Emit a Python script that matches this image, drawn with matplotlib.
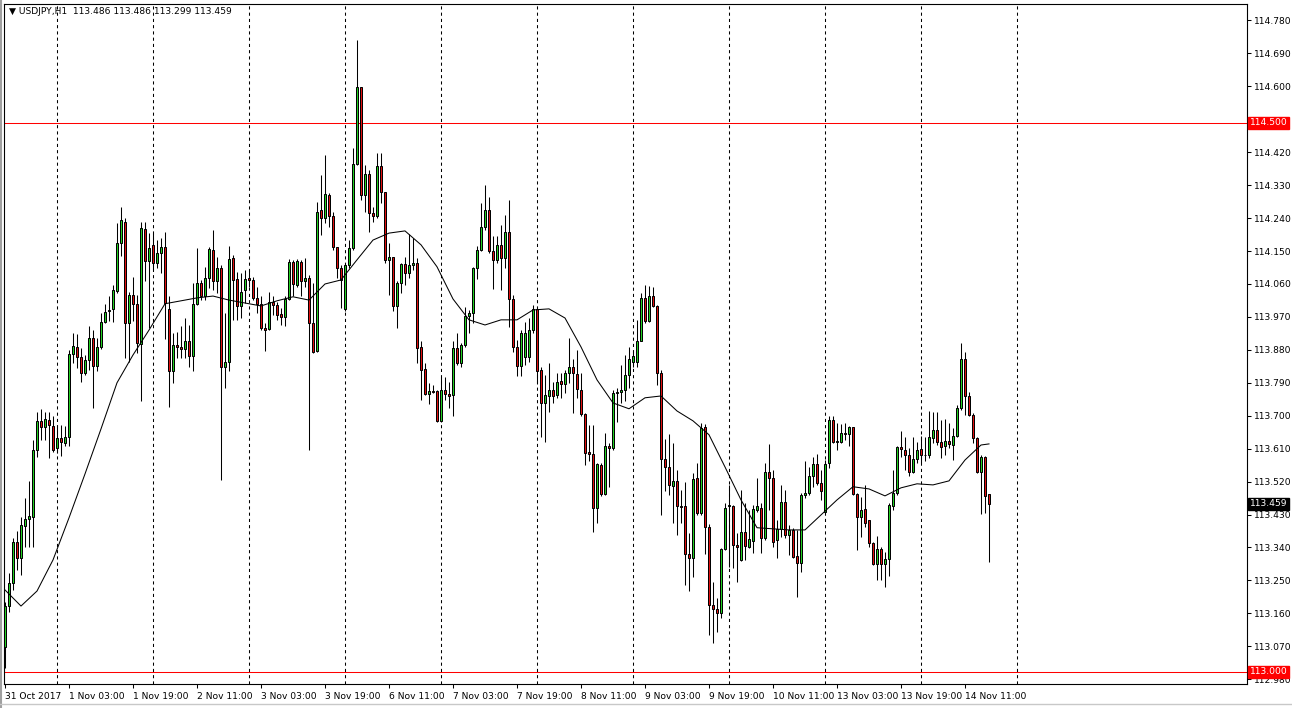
import numpy as np
import pandas as pd
import matplotlib
matplotlib.use('Agg')
import matplotlib.pyplot as plt
from matplotlib.transforms import blended_transform_factory, offset_copy
from matplotlib.lines import Line2D

# ---------------- data ----------------
symbol = 'USDJPY,H1'
trading_days = ['2017-10-31', '2017-11-01', '2017-11-02', '2017-11-03', '2017-11-06',
                '2017-11-07', '2017-11-08', '2017-11-09', '2017-11-10', '2017-11-13',
                '2017-11-14']
first_hour = 11
last_hour = 17

opens = [
    113.069, 113.179, 113.242, 113.356, 113.311, 113.399, 113.417, 113.424, 113.607, 113.686,
    113.670, 113.689, 113.672, 113.611, 113.638, 113.625, 113.641, 113.869, 113.889, 113.860,
    113.816, 113.852, 113.912, 113.836, 113.887, 113.957, 113.985, 113.991, 114.042, 114.173,
    114.230, 113.954, 114.030, 114.005, 113.896, 114.209, 114.124, 114.167, 114.117, 114.146,
    114.162, 113.991, 113.821, 113.893, 113.887, 113.882, 113.903, 113.862, 114.005, 114.062,
    114.026, 114.076, 114.153, 114.069, 114.103, 113.834, 113.848, 114.130, 114.073, 114.000,
    114.044, 114.076, 114.071, 114.021, 114.006, 113.939, 113.936, 114.012, 114.003, 113.978,
    113.969, 114.018, 114.119, 114.057, 114.119, 114.067, 114.077, 113.953, 113.878, 114.262,
    114.240, 114.303, 114.247, 114.162, 114.105, 113.991, 114.112, 114.158, 114.387, 114.598,
    114.302, 114.360, 114.253, 114.247, 114.383, 114.311, 114.126, 114.133, 114.000, 114.062,
    114.115, 114.089, 114.112, 114.117, 113.887, 113.827, 113.760, 113.768, 113.768, 113.686,
    113.771, 113.760, 113.757, 113.884, 113.843, 113.894, 113.973, 113.980, 114.103, 114.153,
    114.215, 114.262, 114.151, 114.126, 114.167, 114.131, 114.202, 114.019, 113.888, 113.836,
    113.861, 113.861, 113.934, 113.991, 113.825, 113.734, 113.754, 113.769, 113.757, 113.795,
    113.786, 113.816, 113.832, 113.814, 113.771, 113.704, 113.600, 113.595, 113.447, 113.566,
    113.486, 113.616, 113.611, 113.761, 113.766, 113.771, 113.811, 113.848, 113.848, 113.905,
    114.021, 113.960, 114.027, 114.000, 113.816, 113.581, 113.561, 113.508, 113.523, 113.454,
    113.452, 113.322, 113.311, 113.529, 113.434, 113.670, 113.395, 113.183, 113.171, 113.160,
    113.335, 113.454, 113.452, 113.347, 113.306, 113.383, 113.342, 113.359, 113.443, 113.447,
    113.365, 113.547, 113.529, 113.361, 113.390, 113.465, 113.374, 113.388, 113.317, 113.297,
    113.484, 113.490, 113.536, 113.568, 113.516, 113.438, 113.572, 113.687, 113.629, 113.629,
    113.652, 113.649, 113.669, 113.486, 113.423, 113.444, 113.414, 113.352, 113.295, 113.336,
    113.295, 113.308, 113.454, 113.488, 113.614, 113.607, 113.593, 113.547, 113.581, 113.609,
    113.592, 113.593, 113.638, 113.661, 113.627, 113.616, 113.632, 113.620, 113.645, 113.720,
    113.854, 113.754, 113.702, 113.638, 113.545, 113.588, 113.486]

highs = [
    113.192, 113.270, 113.365, 113.386, 113.424, 113.474, 113.523, 113.634, 113.711, 113.719,
    113.709, 113.709, 113.698, 113.675, 113.675, 113.672, 113.880, 113.925, 113.924, 113.884,
    113.866, 113.945, 113.934, 113.912, 113.982, 114.005, 114.026, 114.057, 114.226, 114.271,
    114.240, 114.039, 114.078, 114.030, 114.230, 114.230, 114.199, 114.199, 114.180, 114.185,
    114.203, 114.026, 113.925, 113.930, 113.944, 113.966, 113.948, 114.062, 114.158, 114.071,
    114.107, 114.162, 114.208, 114.135, 114.112, 113.980, 114.164, 114.139, 114.094, 114.089,
    114.098, 114.098, 114.080, 114.053, 114.026, 113.953, 114.039, 114.026, 114.012, 113.994,
    114.026, 114.128, 114.126, 114.128, 114.126, 114.130, 114.085, 114.062, 114.285, 114.358,
    114.413, 114.308, 114.258, 114.162, 114.112, 114.117, 114.180, 114.431, 114.727, 114.599,
    114.385, 114.372, 114.271, 114.417, 114.417, 114.312, 114.171, 114.135, 114.067, 114.117,
    114.135, 114.197, 114.185, 114.130, 113.903, 113.843, 113.789, 113.784, 113.771, 113.807,
    113.807, 113.793, 113.903, 113.925, 113.898, 113.998, 113.989, 114.106, 114.164, 114.281,
    114.331, 114.299, 114.190, 114.190, 114.221, 114.249, 114.290, 114.030, 113.907, 113.934,
    113.956, 113.967, 114.003, 113.998, 113.834, 113.812, 113.843, 113.793, 113.816, 113.816,
    113.825, 113.912, 113.854, 113.880, 113.816, 113.707, 113.675, 113.675, 113.572, 113.572,
    113.652, 113.625, 113.771, 113.775, 113.839, 113.866, 113.889, 113.880, 113.962, 114.035,
    114.057, 114.055, 114.053, 114.003, 113.825, 113.636, 113.650, 113.625, 113.552, 113.497,
    113.520, 113.379, 113.543, 113.572, 113.680, 113.678, 113.404, 113.247, 113.201, 113.338,
    113.461, 113.511, 113.456, 113.379, 113.497, 113.461, 113.443, 113.456, 113.529, 113.461,
    113.570, 113.622, 113.552, 113.415, 113.511, 113.497, 113.402, 113.393, 113.388, 113.488,
    113.575, 113.561, 113.587, 113.596, 113.552, 113.579, 113.699, 113.699, 113.681, 113.678,
    113.679, 113.672, 113.670, 113.488, 113.479, 113.511, 113.415, 113.356, 113.372, 113.342,
    113.329, 113.461, 113.552, 113.616, 113.657, 113.643, 113.611, 113.641, 113.627, 113.645,
    113.643, 113.714, 113.711, 113.711, 113.689, 113.690, 113.679, 113.666, 113.730, 113.898,
    113.875, 113.766, 113.707, 113.643, 113.593, 113.590, 113.486]

lows = [
    113.010, 113.165, 113.224, 113.279, 113.265, 113.342, 113.342, 113.342, 113.588, 113.634,
    113.634, 113.584, 113.602, 113.597, 113.590, 113.616, 113.616, 113.843, 113.830, 113.793,
    113.812, 113.825, 113.720, 113.821, 113.882, 113.953, 113.960, 113.957, 114.035, 114.137,
    113.857, 113.848, 113.960, 113.871, 113.739, 114.067, 113.939, 114.098, 114.103, 114.091,
    113.909, 113.723, 113.789, 113.857, 113.857, 113.857, 113.834, 113.823, 114.003, 114.016,
    114.016, 114.048, 114.044, 114.035, 113.525, 113.775, 113.821, 113.962, 113.962, 113.966,
    114.007, 114.053, 114.016, 113.980, 113.935, 113.878, 113.935, 113.976, 113.962, 113.948,
    113.944, 114.016, 114.026, 114.053, 114.026, 114.053, 113.607, 113.871, 113.875, 114.194,
    114.226, 114.217, 114.153, 114.076, 113.994, 113.985, 114.103, 114.153, 114.385, 114.290,
    114.258, 114.203, 114.230, 114.240, 114.281, 114.117, 114.030, 113.985, 113.941, 114.035,
    114.057, 114.076, 114.098, 113.843, 113.743, 113.757, 113.732, 113.761, 113.684, 113.684,
    113.743, 113.720, 113.698, 113.839, 113.833, 113.889, 113.925, 113.953, 114.073, 114.149,
    114.208, 114.144, 114.046, 114.117, 114.044, 114.104, 113.943, 113.874, 113.809, 113.809,
    113.839, 113.847, 113.926, 113.789, 113.643, 113.629, 113.711, 113.734, 113.748, 113.748,
    113.761, 113.789, 113.707, 113.748, 113.698, 113.566, 113.575, 113.381, 113.408, 113.481,
    113.484, 113.506, 113.607, 113.684, 113.734, 113.739, 113.775, 113.834, 113.834, 113.903,
    113.953, 113.957, 113.998, 113.784, 113.429, 113.493, 113.484, 113.406, 113.374, 113.406,
    113.238, 113.220, 113.259, 113.429, 113.429, 113.323, 113.101, 113.078, 113.110, 113.147,
    113.333, 113.288, 113.283, 113.247, 113.302, 113.306, 113.338, 113.324, 113.438, 113.324,
    113.361, 113.443, 113.342, 113.311, 113.370, 113.365, 113.320, 113.311, 113.206, 113.274,
    113.475, 113.484, 113.506, 113.511, 113.470, 113.434, 113.557, 113.625, 113.607, 113.625,
    113.634, 113.616, 113.484, 113.333, 113.370, 113.397, 113.342, 113.292, 113.250, 113.251,
    113.233, 113.261, 113.443, 113.484, 113.588, 113.552, 113.534, 113.543, 113.570, 113.570,
    113.575, 113.584, 113.625, 113.620, 113.584, 113.593, 113.611, 113.579, 113.643, 113.716,
    113.702, 113.698, 113.625, 113.543, 113.432, 113.435, 113.299]

closes = [
    113.179, 113.244, 113.356, 113.311, 113.402, 113.417, 113.426, 113.607, 113.686, 113.670,
    113.690, 113.675, 113.607, 113.638, 113.627, 113.641, 113.869, 113.891, 113.860, 113.816,
    113.852, 113.912, 113.836, 113.889, 113.957, 113.983, 113.988, 114.044, 114.173, 114.235,
    113.953, 114.030, 114.005, 113.898, 114.212, 114.124, 114.158, 114.117, 114.146, 114.160,
    114.007, 113.821, 113.893, 113.887, 113.882, 113.903, 113.862, 114.005, 114.062, 114.026,
    114.076, 114.155, 114.067, 114.103, 113.834, 113.848, 114.128, 114.071, 114.000, 114.039,
    114.073, 114.071, 114.021, 114.006, 113.939, 113.935, 114.012, 114.003, 113.976, 113.969,
    114.018, 114.119, 114.060, 114.123, 114.067, 114.077, 113.953, 113.875, 114.258, 114.240,
    114.305, 114.247, 114.162, 114.105, 114.071, 114.112, 114.158, 114.387, 114.598, 114.302,
    114.360, 114.253, 114.247, 114.383, 114.311, 114.126, 114.133, 114.000, 114.062, 114.115,
    114.091, 114.112, 114.117, 113.884, 113.825, 113.760, 113.768, 113.766, 113.686, 113.771,
    113.760, 113.755, 113.884, 113.843, 113.894, 113.973, 113.980, 114.103, 114.153, 114.215,
    114.262, 114.151, 114.126, 114.167, 114.131, 114.202, 114.019, 113.888, 113.836, 113.926,
    113.926, 113.934, 113.992, 113.821, 113.734, 113.757, 113.771, 113.754, 113.793, 113.786,
    113.816, 113.832, 113.816, 113.773, 113.704, 113.598, 113.595, 113.447, 113.567, 113.486,
    113.616, 113.611, 113.761, 113.766, 113.771, 113.811, 113.854, 113.863, 113.905, 114.021,
    113.960, 114.027, 114.000, 113.816, 113.581, 113.561, 113.511, 113.523, 113.452, 113.450,
    113.322, 113.311, 113.527, 113.435, 113.666, 113.395, 113.183, 113.171, 113.160, 113.335,
    113.447, 113.455, 113.347, 113.342, 113.383, 113.344, 113.362, 113.444, 113.454, 113.365,
    113.547, 113.529, 113.356, 113.390, 113.465, 113.374, 113.388, 113.315, 113.297, 113.484,
    113.490, 113.536, 113.568, 113.516, 113.493, 113.568, 113.687, 113.629, 113.631, 113.652,
    113.649, 113.669, 113.486, 113.423, 113.443, 113.408, 113.352, 113.295, 113.336, 113.295,
    113.308, 113.456, 113.488, 113.614, 113.608, 113.593, 113.547, 113.581, 113.607, 113.593,
    113.593, 113.641, 113.661, 113.627, 113.614, 113.632, 113.623, 113.645, 113.720, 113.854,
    113.754, 113.702, 113.638, 113.545, 113.586, 113.482, 113.459]

# moving average, read every 4 bars (plus the last bar)
ma_values = [
    113.224, 113.180, 113.221, 113.306, 113.421, 113.541, 113.664, 113.790, 113.866, 113.934,
    114.006, 114.014, 114.022, 114.027, 114.016, 114.008, 114.000, 114.014, 114.025, 114.016,
    114.060, 114.071, 114.126, 114.180, 114.199, 114.205, 114.167, 114.107, 114.019, 113.962,
    113.948, 113.962, 113.962, 113.989, 113.992, 113.967, 113.888, 113.798, 113.735, 113.719,
    113.749, 113.754, 113.713, 113.686, 113.648, 113.560, 113.470, 113.394, 113.391, 113.388,
    113.388, 113.429, 113.470, 113.506, 113.500, 113.481, 113.503, 113.514, 113.511, 113.522,
    113.579, 113.620, 113.623]
ma_step = 4

level_lines = [114.500, 113.000]
y_ticks = [114.780, 114.690, 114.600, 114.510, 114.420, 114.330, 114.240, 114.150, 114.060,
           113.970, 113.880, 113.790, 113.700, 113.610, 113.520, 113.430, 113.340, 113.250,
           113.160, 113.070, 112.980]
label_every = 16

# ---------------- time axis ----------------
times = []
for d in trading_days:
    for h in range(24):
        times.append(pd.Timestamp(d) + pd.Timedelta(hours=h))
times = times[first_hour: len(times) - (23 - last_hour)]
n = len(opens)
assert len(times) == n
idx = np.arange(n)

sep_idx = [i for i, t in enumerate(times) if t.hour == 0]
sep_idx.append(sep_idx[-1] + 24)

lab_idx = list(range(0, n, label_every))
lab_txt = []
for i in lab_idx:
    t = times[i]
    if i == 0:
        lab_txt.append(f"{t.day} {t.strftime('%b %Y')}")
    else:
        lab_txt.append(f"{t.day} {t.strftime('%b %H:%M')}")

ma_idx = list(range(0, n, ma_step))
if ma_idx[-1] != n - 1:
    ma_idx.append(n - 1)

# ---------------- figure ----------------
W, H = 1292, 708
fig = plt.figure(figsize=(W / 100, H / 100), dpi=100)
fig.patch.set_facecolor('white')
ax = fig.add_axes([4 / W, 24 / H, 1243 / W, 680 / H])
ax.set_facecolor('white')

ax.set_xlim(-0.25, 310.5)
ax.set_ylim(112.967, 114.825)

FS = 6.6
FONT = 'DejaVu Sans'

# day separators
for s in sep_idx:
    ax.axvline(s, color='black', lw=0.75, ls=(0, (3, 3)), zorder=1, snap=True)

# level lines
for lv in level_lines:
    ax.axhline(lv, color='#ff0000', lw=0.75, zorder=1.5, snap=True)

o = np.array(opens); c = np.array(closes); hi = np.array(highs); lo = np.array(lows)
up = c >= o
ax.vlines(idx, lo, hi, color='black', lw=0.75, zorder=2)
body_bottom = np.minimum(o, c)
body_h = np.abs(c - o)
colors = np.where(up, '#22d022', '#e01010')
ax.bar(idx, body_h, bottom=body_bottom, width=0.62, color=colors,
       edgecolor='black', linewidth=0.72, zorder=3)

# moving average
ax.plot(ma_idx, ma_values, color='black', lw=0.75, zorder=4)

# axes styling
for sp in ax.spines.values():
    sp.set_color('black')
    sp.set_linewidth(0.8)

ax.yaxis.tick_right()
ax.set_yticks(y_ticks)
hidden_tick = 114.510  # covered by the 114.500 price tag in the original
ax.set_yticklabels(["" if abs(v - hidden_tick) < 1e-9 else f"{v:.3f}" for v in y_ticks],
                   fontsize=FS, family=FONT)
ax.tick_params(axis='y', direction='out', length=3, width=0.75, pad=2, colors='black')

ax.set_xticks(lab_idx)
ax.set_xticklabels(lab_txt, fontsize=FS, family=FONT)
for lbl in ax.get_xticklabels():
    lbl.set_ha('left')
ax.tick_params(axis='x', direction='out', length=3, width=0.75, pad=3, colors='black')

# price tags on the right
trans = blended_transform_factory(ax.transAxes, ax.transData)
def tag(price, bg):
    ax.text(1.0, price, f"{price:.3f}", transform=offset_copy(trans, fig=fig, x=3, y=0, units='dots'),
            ha='left', va='center', fontsize=FS, family=FONT, color='white', zorder=10,
            clip_on=False,
            bbox=dict(boxstyle='square,pad=0.18', fc=bg, ec=bg))
tag(level_lines[0], '#ff0000')
tag(level_lines[1], '#ff0000')
tag(closes[-1], 'black')

# header
header = f"\u25bc {symbol}  {opens[-1]:.3f} {highs[-1]:.3f} {lows[-1]:.3f} {closes[-1]:.3f}"
fig.text(9 / W, 1 - 12 / H, header, fontsize=FS, family=FONT, va='center', ha='left', color='black')

# window frame (light grey borders)
fig.add_artist(Line2D([0.5 / W, 0.5 / W], [0, 1], transform=fig.transFigure, color='#a0a0a0', lw=1.5))
fig.add_artist(Line2D([0, 1], [1 - 704 / H, 1 - 704 / H], transform=fig.transFigure, color='#c8c8c8', lw=1))

fig.savefig('out.png', dpi=100)
